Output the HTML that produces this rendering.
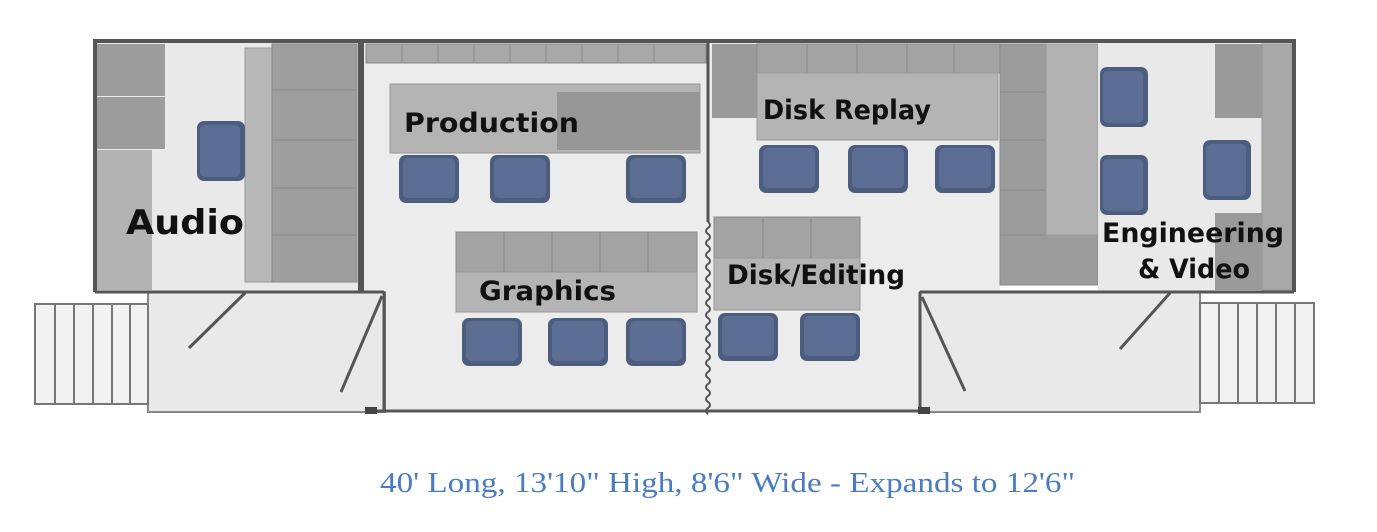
<!DOCTYPE html>
<html><head><meta charset="utf-8"><style>html,body{margin:0;padding:0;background:#fff}svg{display:block}</style></head><body>
<svg width="1377" height="532" viewBox="0 0 1377 532" xmlns="http://www.w3.org/2000/svg">
<defs>
<g id="ch"><rect x="0" y="0" width="60" height="48" rx="7" fill="#4d5d7e"/><rect x="4" y="3" width="52" height="40" rx="5" fill="#5d6e94"/></g>
<g id="chv"><rect x="0" y="0" width="48" height="60" rx="7" fill="#4d5d7e"/><rect x="3" y="4" width="40" height="52" rx="5" fill="#5d6e94"/></g>
</defs>
<!-- main expanded middle -->
<rect x="364" y="42" width="636" height="250" fill="#ececec"/>
<rect x="364" y="290" width="556" height="122" fill="#ececec"/>
<!-- vestibules -->
<rect x="148" y="292" width="237" height="120" fill="#e9e9e9" stroke="#888" stroke-width="2"/>
<rect x="920" y="292" width="280" height="120" fill="#e9e9e9" stroke="#888" stroke-width="2"/>
<!-- stairs -->
<g stroke="#777" stroke-width="2" fill="#f2f2f2">
<rect x="35" y="304" width="113" height="100"/>
<line x1="55" y1="304" x2="55" y2="404"/><line x1="74" y1="304" x2="74" y2="404"/><line x1="93" y1="304" x2="93" y2="404"/><line x1="112" y1="304" x2="112" y2="404"/><line x1="130" y1="304" x2="130" y2="404"/>
<rect x="1200" y="303" width="114" height="100"/>
<line x1="1219" y1="303" x2="1219" y2="403"/><line x1="1238" y1="303" x2="1238" y2="403"/><line x1="1257" y1="303" x2="1257" y2="403"/><line x1="1276" y1="303" x2="1276" y2="403"/><line x1="1295" y1="303" x2="1295" y2="403"/>
</g>
<!-- audio room -->
<rect x="95" y="42" width="265" height="250" fill="#e9e9e9"/>
<rect x="97" y="44" width="68" height="52" fill="#9c9c9c"/><rect x="97" y="97" width="68" height="52" fill="#9c9c9c"/>
<rect x="97" y="150" width="55" height="140" fill="#b3b3b3"/>
<rect x="245" y="48" width="27" height="234" fill="#b8b8b8" stroke="#999"/>
<g fill="#9e9e9e" stroke="#888" stroke-width="1">
<rect x="272" y="44" width="85" height="46"/><rect x="272" y="90" width="85" height="50"/><rect x="272" y="140" width="85" height="48"/><rect x="272" y="188" width="85" height="47"/><rect x="272" y="235" width="85" height="47"/>
</g>
<use href="#chv" x="197" y="121"/>
<!-- middle top strip -->
<g fill="#a8a8a8" stroke="#8a8a8a" stroke-width="1">
<rect x="366" y="44" width="36" height="19"/><rect x="402" y="44" width="36" height="19"/><rect x="438" y="44" width="36" height="19"/><rect x="474" y="44" width="36" height="19"/><rect x="510" y="44" width="36" height="19"/><rect x="546" y="44" width="36" height="19"/><rect x="582" y="44" width="36" height="19"/><rect x="618" y="44" width="36" height="19"/><rect x="654" y="44" width="52" height="19"/>
</g>
<!-- production -->
<rect x="390" y="84" width="310" height="69" fill="#b4b4b4" stroke="#999"/>
<rect x="557" y="92" width="143" height="58" fill="#979797"/>
<use href="#ch" x="399" y="155"/><use href="#ch" x="490" y="155"/><use href="#ch" x="626" y="155"/>
<!-- graphics -->
<g fill="#a3a3a3" stroke="#888" stroke-width="1">
<rect x="456" y="232" width="48" height="40"/><rect x="504" y="232" width="48" height="40"/><rect x="552" y="232" width="48" height="40"/><rect x="600" y="232" width="48" height="40"/><rect x="648" y="232" width="49" height="40"/>
</g>
<rect x="456" y="272" width="241" height="40" fill="#b4b4b4" stroke="#999"/>
<use href="#ch" x="462" y="318"/><use href="#ch" x="548" y="318"/><use href="#ch" x="626" y="318"/>
<!-- right middle -->
<rect x="712" y="44" width="45" height="74" fill="#9a9a9a"/>
<g fill="#a3a3a3" stroke="#888" stroke-width="1">
<rect x="757" y="44" width="50" height="29"/><rect x="807" y="44" width="50" height="29"/><rect x="857" y="44" width="50" height="29"/><rect x="907" y="44" width="47" height="29"/><rect x="954" y="44" width="46" height="29"/>
</g>
<rect x="757" y="73" width="241" height="67" fill="#b4b4b4" stroke="#999"/>
<use href="#ch" x="759" y="145"/><use href="#ch" x="848" y="145"/><use href="#ch" x="935" y="145"/>
<g fill="#a3a3a3" stroke="#888" stroke-width="1">
<rect x="714" y="217" width="49" height="41"/><rect x="763" y="217" width="48" height="41"/><rect x="811" y="217" width="49" height="41"/>
</g>
<rect x="714" y="258" width="146" height="52" fill="#b4b4b4" stroke="#999"/>
<use href="#ch" x="718" y="313"/><use href="#ch" x="800" y="313"/>
<!-- right cabinets column -->
<g fill="#9c9c9c" stroke="#888" stroke-width="1">
<rect x="1000" y="44" width="46" height="48"/><rect x="1000" y="92" width="46" height="48"/><rect x="1000" y="140" width="46" height="50"/><rect x="1000" y="190" width="46" height="45"/>
<rect x="1000" y="235" width="98" height="50"/>
</g>
<rect x="1046" y="44" width="52" height="191" fill="#b2b2b2" stroke="#999"/>
<!-- engineering room -->
<rect x="1098" y="42" width="195" height="250" fill="#e9e9e9"/>
<rect x="1215" y="44" width="47" height="74" fill="#9a9a9a"/>
<rect x="1262" y="44" width="30" height="246" fill="#a8a8a8" stroke="#999"/>
<rect x="1215" y="213" width="47" height="77" fill="#9a9a9a"/>
<use href="#chv" x="1100" y="67"/><use href="#chv" x="1100" y="155"/><use href="#chv" x="1203" y="140"/>
<!-- walls -->
<g stroke="#555" fill="none">
<path d="M95 292 V41 H1294 V292" stroke-width="4"/>
<line x1="95" y1="292" x2="360" y2="292" stroke-width="3"/>
<line x1="361" y1="41" x2="361" y2="292" stroke-width="6"/>
<line x1="920" y1="292" x2="1294" y2="292" stroke-width="3"/>
<line x1="360" y1="292" x2="384" y2="292" stroke-width="3"/>
<line x1="384" y1="292" x2="384" y2="410" stroke-width="3"/>
<line x1="920" y1="292" x2="920" y2="410" stroke-width="3"/>
<line x1="366" y1="411" x2="928" y2="411" stroke-width="3"/>
<line x1="708" y1="41" x2="708" y2="222" stroke-width="3"/>
<path d="M708 222 q4 3 0 6 q-4 3 0 6 q4 3 0 6 q-4 3 0 6 q4 3 0 6 q-4 3 0 6 q4 3 0 6 q-4 3 0 6 q4 3 0 6 q-4 3 0 6 q4 3 0 6 q-4 3 0 6 q4 3 0 6 q-4 3 0 6 q4 3 0 6 q-4 3 0 6 q4 3 0 6 q-4 3 0 6 q4 3 0 6 q-4 3 0 6 q4 3 0 6 q-4 3 0 6 q4 3 0 6 q-4 3 0 6 q4 3 0 6 q-4 3 0 6 q4 3 0 6 q-4 3 0 6 q4 3 0 6 q-4 3 0 6 q4 3 0 6 q-4 3 0 6" stroke-width="2"/>
<line x1="245" y1="293" x2="189" y2="348" stroke-width="3"/>
<line x1="382" y1="296" x2="341" y2="392" stroke-width="3"/>
<line x1="922" y1="297" x2="965" y2="391" stroke-width="3"/>
<line x1="1170" y1="293" x2="1120" y2="349" stroke-width="3"/>
</g>
<rect x="365" y="407" width="12" height="7" fill="#444"/><rect x="918" y="407" width="12" height="7" fill="#444"/>
<!-- labels -->
<g font-family="'DejaVu Sans','Liberation Sans',sans-serif" font-weight="bold" fill="#111">
<text x="126" y="234" font-size="34" textLength="118" lengthAdjust="spacingAndGlyphs">Audio</text>
<text x="404" y="132" font-size="27" textLength="175" lengthAdjust="spacingAndGlyphs">Production</text>
<text x="479" y="300" font-size="27" textLength="137" lengthAdjust="spacingAndGlyphs">Graphics</text>
<text x="763" y="119" font-size="27" textLength="168" lengthAdjust="spacingAndGlyphs">Disk Replay</text>
<text x="727" y="284" font-size="27" textLength="178" lengthAdjust="spacingAndGlyphs">Disk/Editing</text>
<text x="1102" y="242" font-size="27" textLength="182" lengthAdjust="spacingAndGlyphs">Engineering</text>
<text x="1138" y="278" font-size="27" textLength="112" lengthAdjust="spacingAndGlyphs">&amp; Video</text>
</g>
<text x="380" y="492" font-family="'Liberation Serif',serif" font-size="28" fill="#4a7cc4" textLength="695" lengthAdjust="spacingAndGlyphs">40' Long, 13'10" High, 8'6" Wide - Expands to 12'6"</text>
</svg>
</body></html>
